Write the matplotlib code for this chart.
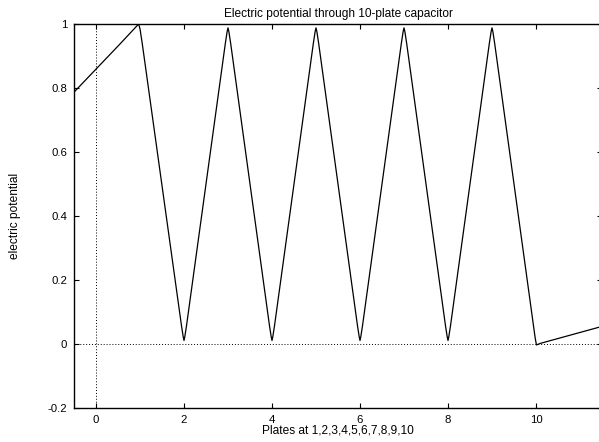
import matplotlib
matplotlib.use("Agg")
import matplotlib.pyplot as plt

plt.rcParams['font.family'] = ['Liberation Sans', 'DejaVu Sans']

# potential sampled along the axis; plates at 1..10, rounded tips at each plate
pot_x = [-0.5, 0.0, 0.5, 0.97, 1.0, 1.05,
         1.94, 1.98, 2.0, 2.02, 2.06,
         2.94, 2.98, 3.0, 3.02, 3.06,
         3.94, 3.98, 4.0, 4.02, 4.06,
         4.94, 4.98, 5.0, 5.02, 5.06,
         5.94, 5.98, 6.0, 6.02, 6.06,
         6.94, 6.98, 7.0, 7.02, 7.06,
         7.94, 7.98, 8.0, 8.02, 8.06,
         8.94, 8.98, 9.0, 9.02, 9.06,
         9.94, 9.98, 10.01, 10.1, 11.5]
pot_y = [0.787, 0.859, 0.931, 1.0, 0.985, 0.94,
         0.06, 0.024, 0.011, 0.024, 0.06,
         0.94, 0.976, 0.988, 0.976, 0.94,
         0.06, 0.024, 0.011, 0.024, 0.06,
         0.94, 0.976, 0.988, 0.976, 0.94,
         0.06, 0.024, 0.011, 0.024, 0.06,
         0.94, 0.976, 0.988, 0.976, 0.94,
         0.06, 0.024, 0.011, 0.024, 0.06,
         0.94, 0.976, 0.988, 0.976, 0.94,
         0.06, 0.02, -0.003, 0.002, 0.055]

xticks = [0, 2, 4, 6, 8, 10]
yticks = [-0.2, 0, 0.2, 0.4, 0.6, 0.8, 1]
ytick_labels = ['-0.2', '0', '0.2', '0.4', '0.6', '0.8', '1']

fig = plt.figure(figsize=(5.99, 4.42), dpi=100)
ax = fig.add_axes([74/599, 34/442, 528/599, 384/442])

ax.axhline(0, color='black', lw=0.7, ls=(0, (1, 2)), zorder=1)
ax.axvline(0, color='black', lw=0.7, ls=(0, (1, 2)), zorder=1)
ax.plot(pot_x, pot_y, color='black', lw=0.9, zorder=3)

ax.set_xlim(-0.5, 11.5)
ax.set_ylim(-0.2, 1)
ax.set_xticks(xticks)
ax.set_xticklabels([str(t) for t in xticks])
ax.set_yticks(yticks)
ax.set_yticklabels(ytick_labels)
ax.tick_params(direction='in', length=3.3, width=0.8, top=True, right=True,
               labelsize=8.2, pad=5)
for s in ax.spines.values():
    s.set_linewidth(1.0)

ax.set_title('Electric potential through 10-plate capacitor', fontsize=8.6, pad=5)
ax.set_xlabel('Plates at 1,2,3,4,5,6,7,8,9,10', fontsize=8.6, labelpad=0)
ax.set_ylabel('electric potential', fontsize=8.6, labelpad=19)

fig.savefig('out.png', dpi=100)
